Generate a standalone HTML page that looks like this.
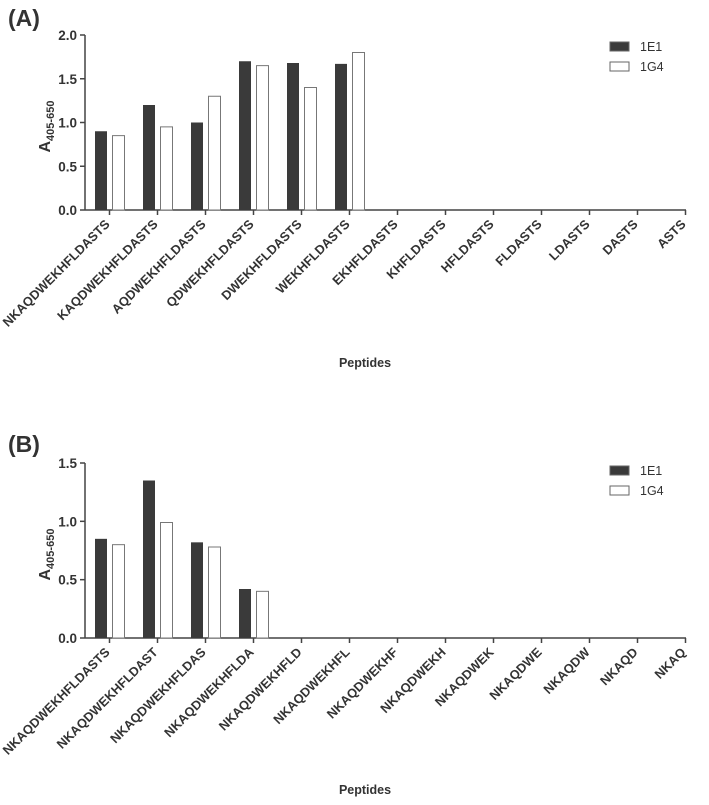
<!DOCTYPE html>
<html><head><meta charset="utf-8"><style>
body{margin:0;background:#fff;}
svg text{font-family:"Liberation Sans",Arial,sans-serif;fill:#333;}
</style></head><body>
<svg id="c" width="709" height="800" xmlns="http://www.w3.org/2000/svg"></svg>
<script>
const catsA=["NKAQDWEKHFLDASTS","KAQDWEKHFLDASTS","AQDWEKHFLDASTS","QDWEKHFLDASTS","DWEKHFLDASTS","WEKHFLDASTS","EKHFLDASTS","KHFLDASTS","HFLDASTS","FLDASTS","LDASTS","DASTS","ASTS"];
const e1A=[0.90,1.20,1.00,1.70,1.68,1.67,0,0,0,0,0,0,0];
const g4A=[0.85,0.95,1.30,1.65,1.40,1.80,0,0,0,0,0,0,0];
const ticksA=["0.0","0.5","1.0","1.5","2.0"];
const catsB=["NKAQDWEKHFLDASTS","NKAQDWEKHFLDAST","NKAQDWEKHFLDAS","NKAQDWEKHFLDA","NKAQDWEKHFLD","NKAQDWEKHFL","NKAQDWEKHF","NKAQDWEKH","NKAQDWEK","NKAQDWE","NKAQDW","NKAQD","NKAQ"];
const e1B=[0.85,1.35,0.82,0.42,0,0,0,0,0,0,0,0,0];
const g4B=[0.80,0.99,0.78,0.40,0,0,0,0,0,0,0,0,0];
const ticksB=["0.0","0.5","1.0","1.5"];
const NS="http://www.w3.org/2000/svg";
const svg=document.getElementById('c');
function mk(t,a,p){const e=document.createElementNS(NS,t);for(const k in a)e.setAttribute(k,a[k]);(p||svg).appendChild(e);return e;}
function panel(id,letter,cats,s1,s2,ticks,y0,yTop,max,ty,legY,labY){
  const g=mk('g',{});
  
  
  const y=v=>y0-(v/max)*(y0-yTop);
  const x=i=>109.5+i*48;
  const t=mk('text',{x:8,y:ty,'font-size':23,'font-weight':'bold'},g);t.textContent='('+letter+')';
  
  const ya=mk('line',{x1:85,y1:yTop,x2:85,y2:y0,stroke:'#444','stroke-width':1.5},g);
  
  const xa=mk('line',{x1:85,y1:y0,x2:686,y2:y0,stroke:'#444','stroke-width':1.5},g);
  
  ticks.forEach(tk=>{const v=parseFloat(tk);const yy=y(v);
    mk('line',{x1:80,y1:yy,x2:85,y2:yy,stroke:'#444','stroke-width':1.5},g);
    const tl=mk('text',{x:77,y:yy+5,'font-size':13.5,'font-weight':'bold','text-anchor':'end'},g);tl.textContent=tk;
    });
  cats.forEach((c,i)=>{const cx=x(i);
    mk('line',{x1:cx,y1:y0,x2:cx,y2:y0+5,stroke:'#444','stroke-width':1.5},g);
    if(s1[i]>0){const b=mk('rect',{x:cx-14.5,y:y(s1[i]),width:12,height:y0-y(s1[i]),fill:'#3a3a3a'},g);
      }
    if(s2[i]>0){const b=mk('rect',{x:cx+3,y:y(s2[i]),width:12,height:y0-y(s2[i]),fill:'#fff',stroke:'#777','stroke-width':1},g);
      }
    const lx=cx+1,ly=y0+15;
    const l=mk('text',{x:lx,y:ly,'font-size':12.8,'font-weight':'bold','text-anchor':'end',transform:`rotate(-45 ${lx} ${ly})`},g);
    l.textContent=c;});
  const yt=mk('text',{x:0,y:0,'font-size':16,'font-weight':'bold',transform:`translate(50 ${(y0+yTop)/2+30}) rotate(-90)`},g);
  yt.innerHTML='A<tspan font-size="11" dy="4">405-650</tspan>';
  
  const xt=mk('text',{x:365,y:labY,'font-size':12.5,'font-weight':'bold','text-anchor':'middle'},g);xt.textContent='Peptides';
  
  [['1E1','#3a3a3a'],['1G4','#fff']].forEach((s,k)=>{
    const r=mk('rect',{x:610,y:legY+k*20,width:19,height:9,fill:s[1],stroke:'#666'},g);
    
    const lt=mk('text',{x:640,y:legY+k*20+9,'font-size':12.5},g);lt.textContent=s[0];
    });
}
panel('a','A',catsA,e1A,g4A,ticksA,210,35,2.0,26,42,367);
panel('b','B',catsB,e1B,g4B,ticksB,638,463,1.5,452,466,794);
</script>
</body></html>
